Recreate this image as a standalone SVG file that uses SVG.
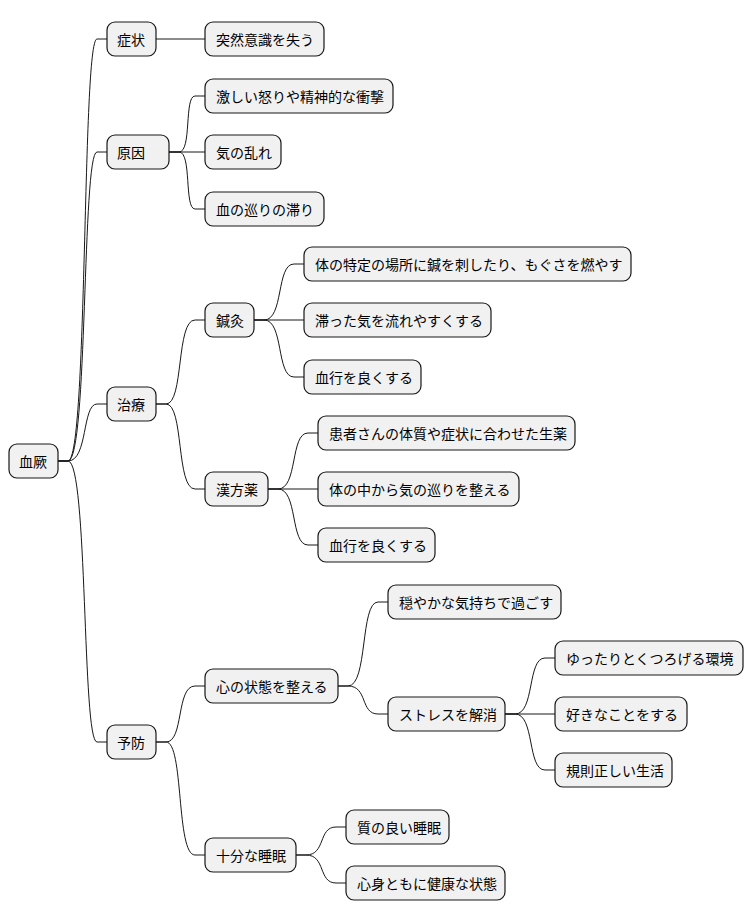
<svg xmlns="http://www.w3.org/2000/svg" width="754" height="921" viewBox="0 0 754 921">
<style>
rect{fill:#F1F1F1;stroke:#181818;stroke-width:1.2}
text{font-family:"Noto Sans CJK JP","Liberation Sans",sans-serif;font-size:14px;fill:#000;dominant-baseline:central}
#connectors path{fill:none;stroke:#181818;stroke-width:1}
</style>
<rect x="0" y="0" width="754" height="921" style="fill:#fff;stroke:none"/>
<g id="connectors">
<path d="M58,461 L68,461 C88,461 82,39 97,39 L107,39"/>
<path d="M58,461 L68,461 C88,461 82,152 97,152 L107,152"/>
<path d="M58,461 L68,461 C88,461 82,404 97,404 L107,404"/>
<path d="M58,461 L68,461 C88,461 82,742 97,742 L107,742"/>
<path d="M156,39 L205,39"/>
<path d="M169,152 L179,152 C192,152 184,96 195,96 L205,96"/>
<path d="M169,152 L205,152"/>
<path d="M169,152 L179,152 C192,152 184,209 195,209 L205,209"/>
<path d="M156,404 L166,404 C184,404 176,320 195,320 L205,320"/>
<path d="M156,404 L166,404 C184,404 176,489 195,489 L205,489"/>
<path d="M254,320 L264,320 C284,320 276,264 294,264 L304,264"/>
<path d="M254,320 L304,320"/>
<path d="M254,320 L264,320 C284,320 276,377 294,377 L304,377"/>
<path d="M268,489 L278,489 C298,489 290,433 308,433 L318,433"/>
<path d="M268,489 L318,489"/>
<path d="M268,489 L278,489 C298,489 290,545 308,545 L318,545"/>
<path d="M156,742 L166,742 C184,742 176,686 195,686 L205,686"/>
<path d="M156,742 L166,742 C184,742 176,855 195,855 L205,855"/>
<path d="M338,686 L348,686 C368,686 360,602 378,602 L388,602"/>
<path d="M338,686 L348,686 C368,686 360,714 378,714 L388,714"/>
<path d="M505,714 L515,714 C535,714 527,658 545,658 L555,658"/>
<path d="M505,714 L555,714"/>
<path d="M505,714 L515,714 C535,714 527,770 545,770 L555,770"/>
<path d="M296,855 L306,855 C326,855 318,827 336,827 L346,827"/>
<path d="M296,855 L306,855 C326,855 318,883 336,883 L346,883"/>
</g>
<g id="n-root"><rect x="9" y="444" width="49" height="34" rx="8"/><text x="19" y="461">血厥</text></g>
<g id="n-1"><rect x="107" y="22" width="49" height="34" rx="8"/><text x="117" y="39">症状</text></g>
<g id="n-2"><rect x="107" y="135" width="62" height="34" rx="8"/><text x="117" y="152">原因</text></g>
<g id="n-3"><rect x="107" y="387" width="49" height="34" rx="8"/><text x="117" y="404">治療</text></g>
<g id="n-4"><rect x="107" y="725" width="49" height="34" rx="8"/><text x="117" y="742">予防</text></g>
<g id="n-1a"><rect x="205" y="22" width="119" height="34" rx="8"/><text x="216" y="39">突然意識を失う</text></g>
<g id="n-2a"><rect x="205" y="79" width="188" height="34" rx="8"/><text x="216" y="96">激しい怒りや精神的な衝撃</text></g>
<g id="n-2b"><rect x="205" y="135" width="76" height="34" rx="8"/><text x="216" y="152">気の乱れ</text></g>
<g id="n-2c"><rect x="205" y="192" width="119" height="34" rx="8"/><text x="216" y="209">血の巡りの滞り</text></g>
<g id="n-3a"><rect x="205" y="303" width="49" height="34" rx="8"/><text x="216" y="320">鍼灸</text></g>
<g id="n-3b"><rect x="205" y="472" width="63" height="34" rx="8"/><text x="216" y="489">漢方薬</text></g>
<g id="n-3a1"><rect x="304" y="247" width="327" height="34" rx="8"/><text x="315" y="264">体の特定の場所に鍼を刺したり、もぐさを燃やす</text></g>
<g id="n-3a2"><rect x="304" y="303" width="187" height="34" rx="8"/><text x="315" y="320">滞った気を流れやすくする</text></g>
<g id="n-3a3"><rect x="304" y="360" width="117" height="34" rx="8"/><text x="315" y="377">血行を良くする</text></g>
<g id="n-3b1"><rect x="318" y="416" width="257" height="34" rx="8"/><text x="329" y="433">患者さんの体質や症状に合わせた生薬</text></g>
<g id="n-3b2"><rect x="318" y="472" width="201" height="34" rx="8"/><text x="329" y="489">体の中から気の巡りを整える</text></g>
<g id="n-3b3"><rect x="318" y="528" width="117" height="34" rx="8"/><text x="329" y="545">血行を良くする</text></g>
<g id="n-4a"><rect x="205" y="669" width="133" height="34" rx="8"/><text x="216" y="686">心の状態を整える</text></g>
<g id="n-4b"><rect x="205" y="838" width="91" height="34" rx="8"/><text x="216" y="855">十分な睡眠</text></g>
<g id="n-4a1"><rect x="388" y="585" width="173" height="34" rx="8"/><text x="399" y="602">穏やかな気持ちで過ごす</text></g>
<g id="n-4a2"><rect x="388" y="697" width="117" height="34" rx="8"/><text x="399" y="714">ストレスを解消</text></g>
<g id="n-4a2a"><rect x="555" y="641" width="188" height="34" rx="8"/><text x="566" y="658">ゆったりとくつろげる環境</text></g>
<g id="n-4a2b"><rect x="555" y="697" width="132" height="34" rx="8"/><text x="566" y="714">好きなことをする</text></g>
<g id="n-4a2c"><rect x="555" y="753" width="117" height="34" rx="8"/><text x="566" y="770">規則正しい生活</text></g>
<g id="n-4b1"><rect x="346" y="810" width="103" height="34" rx="8"/><text x="357" y="827">質の良い睡眠</text></g>
<g id="n-4b2"><rect x="346" y="866" width="159" height="34" rx="8"/><text x="357" y="883">心身ともに健康な状態</text></g>
</svg>
